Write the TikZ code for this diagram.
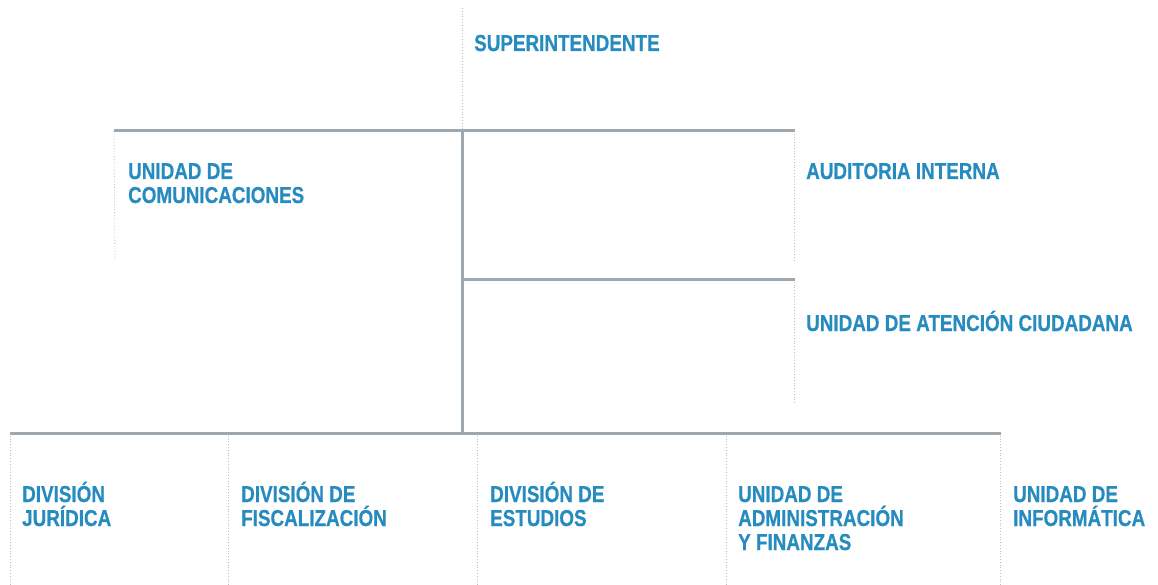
\documentclass[tikz,border=0pt]{standalone}
\usepackage{fontspec}
\newfontfamily\lblfamily{Liberation Sans}[FakeStretch=0.82,BoldFeatures={FakeBold=0.6}]
\definecolor{lblblue}{RGB}{38,139,190}
\definecolor{linegray}{RGB}{158,168,174}
\definecolor{dotgray}{RGB}{185,190,195}
\newcommand{\lines}[1]{\parbox[t]{300pt}{\raggedright\lineskiplimit=-100pt\relax #1}}
\tikzset{
  lab/.style={anchor=base west, inner sep=0pt, text=lblblue,
    font=\lblfamily\bfseries\fontsize{23}{24}\selectfont},
  mainline/.style={draw=linegray, line width=3pt},
  dotline/.style={draw=dotgray, line width=0.8pt, dotted}
}
\begin{document}
\begin{tikzpicture}[x=1pt,y=-1pt]
\useasboundingbox (0,0) rectangle (1158,585);
% coordinates
\coordinate (top) at (462,8);
\coordinate (hA) at (462,131);
\coordinate (hL) at (114,131);
\coordinate (hR) at (795,131);
\coordinate (mA) at (462,279);
\coordinate (mR) at (795,279);
\coordinate (bA) at (462,433);
\coordinate (bL) at (10,433);
\coordinate (bR) at (1001,433);
\coordinate (cL1) at (115,260);
\coordinate (cR1) at (794,260);
\coordinate (cR2) at (794,404);
\coordinate (mR2) at (794,279);
\coordinate (hR2) at (794,131);
\coordinate (d1t) at (10,433);  \coordinate (d1b) at (10,585);
\coordinate (d2t) at (228,433); \coordinate (d2b) at (228,585);
\coordinate (d3t) at (477,433); \coordinate (d3b) at (477,585);
\coordinate (d4t) at (726,433); \coordinate (d4b) at (726,585);
\coordinate (d5t) at (1000,433);\coordinate (d5b) at (1000,585);
% dotted guide lines
\draw[dotline] (top) -- (hA);
\draw[dotline] (hL) -- (cL1);
\draw[dotline] (hR2) -- (cR1);
\draw[dotline] (mR2) -- (cR2);
\foreach \i in {1,...,5} { \draw[dotline] (d\i t) -- (d\i b); }
% main lines
\draw[mainline] (hL) -- (hR);
\draw[mainline] (hA) -- (bA);
\draw[mainline] (mA) -- (mR);
\draw[mainline] (bL) -- (bR);
% labels
\node[lab] (sup) at (474,51) {SUPERINTENDENTE};
\node[lab] (com) at (128,179) {\lines{UNIDAD DE\\COMUNICACIONES}};
\node[lab] (aud) at (806,179) {AUDITORIA INTERNA};
\node[lab] (ate) at (806,331) {UNIDAD DE ATENCIÓN CIUDADANA};
\node[lab] (jur) at (22,502) {\lines{DIVISIÓN\\JURÍDICA}};
\node[lab] (fis) at (241,502) {\lines{DIVISIÓN DE\\FISCALIZACIÓN}};
\node[lab] (est) at (490,502) {\lines{DIVISIÓN DE\\ESTUDIOS}};
\node[lab] (adm) at (738,502) {\lines{UNIDAD DE\\ADMINISTRACIÓN\\Y FINANZAS}};
\node[lab] (inf) at (1013,502) {\lines{UNIDAD DE\\INFORMÁTICA}};
\end{tikzpicture}
\end{document}
